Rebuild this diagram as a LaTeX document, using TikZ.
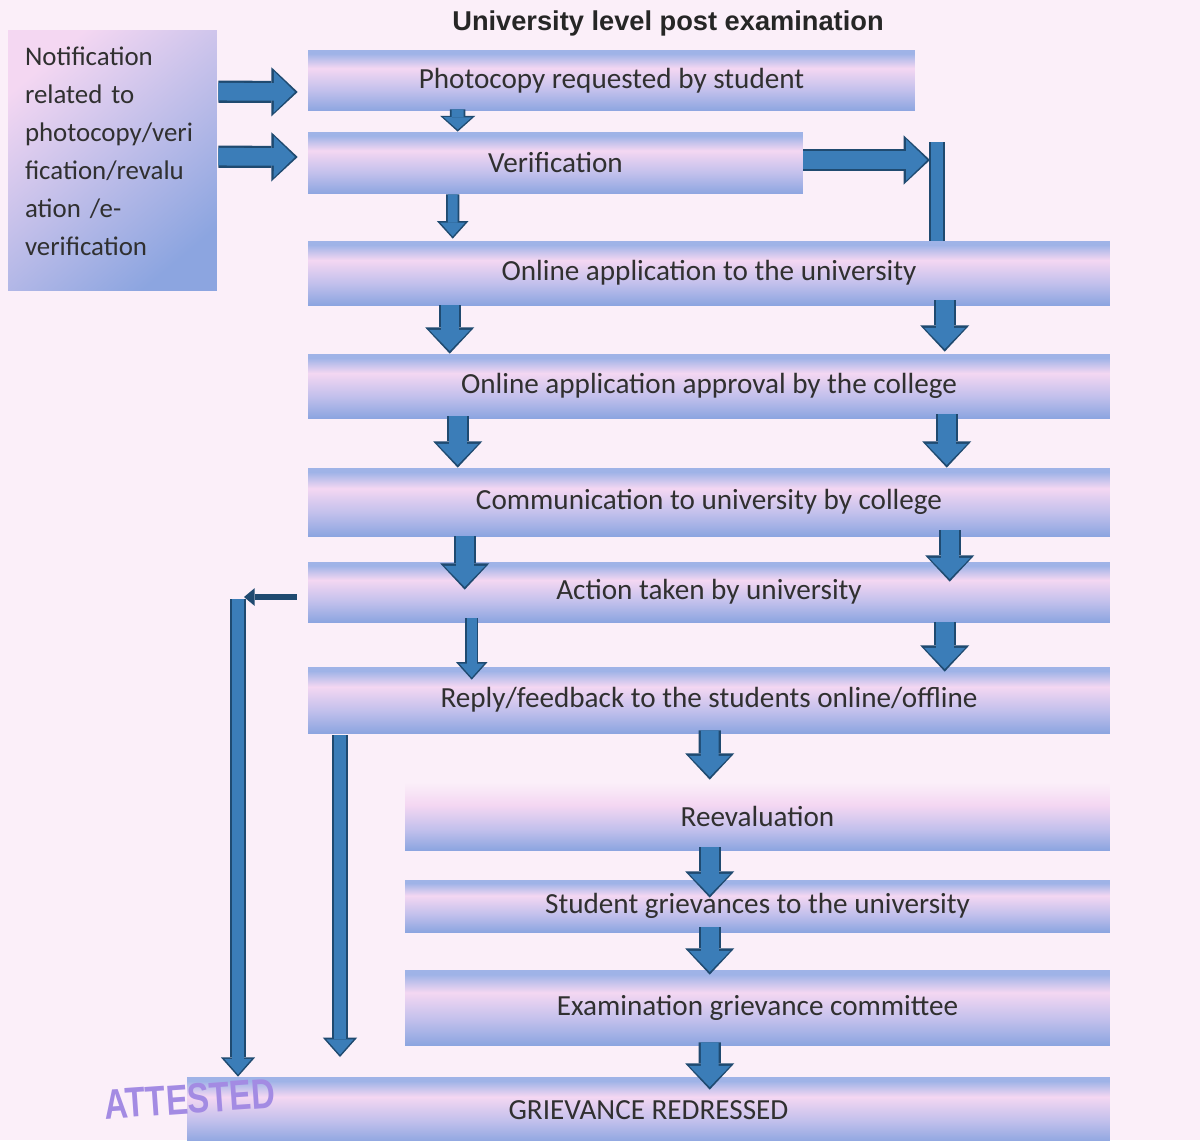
\documentclass[tikz,border=0pt]{standalone}
\usepackage{fontspec}
\setmainfont{Carlito}
\newfontfamily\titlefont{Liberation Sans}
\usetikzlibrary{arrows.meta,calc}
\definecolor{bgpink}{HTML}{FBEFF9}
\definecolor{bbot}{HTML}{8CA5E0}
\definecolor{bmid}{HTML}{C2C0EC}
\definecolor{bpink}{HTML}{F4D7F2}
\definecolor{btop}{HTML}{9FB3E7}
\definecolor{arrfill}{HTML}{3B7DB8}
\definecolor{arrline}{HTML}{1F4A70}
\definecolor{txt}{HTML}{303030}
\definecolor{stampc}{HTML}{A38BE3}
\pgfdeclareverticalshading{boxsh}{100bp}{color(0bp)=(bbot); color(25bp)=(bbot); color(42bp)=(bmid); color(60bp)=(bpink); color(72bp)=(btop); color(75bp)=(btop); color(100bp)=(btop)}
\pgfdeclareverticalshading{reevsh}{100bp}{color(0bp)=(bbot); color(25bp)=(bbot); color(40bp)=(bmid); color(58bp)=(bpink); color(75bp)=(bgpink); color(100bp)=(bgpink)}
\begin{document}
\begin{tikzpicture}[x=0.02cm,y=-0.02cm,
  box/.style={shade, shading=boxsh, inner sep=0pt, text=txt, font=\fontsize{16.6}{20}\selectfont},
  reevbox/.style={box, shading=reevsh},
  notifbox/.style={shade, top color=bpink, bottom color=bbot, shading angle=40, inner sep=0pt, text=txt, align=left, text width=3.5cm, text depth=119pt, font=\fontsize{15.3}{21.6}\selectfont},
  bigarr/.style={preaction={draw=arrline, line width=12.6pt, shorten >=0pt, -{Triangle[length=15pt,width=28pt,line width=0pt]}},
    draw=arrfill, line width=10pt, shorten >=1.6pt, -{Triangle[length=12pt,width=23.5pt,line width=0pt]}},
  thinarr/.style={preaction={draw=arrline, line width=7.6pt, shorten >=0pt, -{Triangle[length=10pt,width=18pt,line width=0pt]}},
    draw=arrfill, line width=5.5pt, shorten >=1.3pt, -{Triangle[length=7.8pt,width=14pt,line width=0pt]}},
  smallarr/.style={preaction={draw=arrline, line width=8.8pt, shorten >=0pt, -{Triangle[length=9pt,width=20pt,line width=0pt]}},
    draw=arrfill, line width=6.8pt, shorten >=1.2pt, -{Triangle[length=7pt,width=16pt,line width=0pt]}},
  bararr/.style={preaction={draw=arrline, line width=8.8pt, shorten >=0pt, -{Triangle[length=11pt,width=19.5pt,line width=0pt]}},
    draw=arrfill, line width=6.6pt, shorten >=1.3pt, -{Triangle[length=8.8pt,width=15.5pt,line width=0pt]}},
  barline/.style={preaction={draw=arrline, line width=8.8pt}, draw=arrfill, line width=6.8pt},
  darkarr/.style={draw=arrline, line width=3.4pt, -{Triangle[length=6pt,width=10pt,line width=0pt]}},
  stamp/.style={text=stampc, inner sep=0pt, font=\titlefont\bfseries\fontsize{24}{26}\selectfont}
]
\fill[bgpink] (0,0) rectangle (1200,1140);
\useasboundingbox (0,0) rectangle (1200,1140);

\node[font=\titlefont\bfseries\fontsize{15.5}{18}\selectfont, text=black!85] (title) at (668,23) {University level post examination};

\node[notifbox, minimum width=4.18cm, minimum height=5.22cm] (notif) at (112.5,160.5)
  {Notification\\related to\\photocopy/veri\\fication/revalu\\ation /e-\\verification};

\node[box, minimum width=12.14cm, minimum height=1.22cm] (photo) at (611.5,80.5) {Photocopy requested by student};
\node[box, minimum width=9.9cm, minimum height=1.24cm] (verif) at (555.5,163) {Verification};
\node[box, minimum width=16.04cm, minimum height=1.28cm] (onl) at (709,273) {Online application to the university};
\node[box, minimum width=16.04cm, minimum height=1.28cm] (appr) at (709,386) {Online application approval by the college};
\node[box, minimum width=16.04cm, minimum height=1.36cm] (comm) at (709,502) {Communication to university by college};
\node[box, minimum width=16.04cm, minimum height=1.2cm] (act) at (709,592) {Action taken by university};
\node[box, minimum width=16.04cm, minimum height=1.32cm] (reply) at (709,700) {Reply/feedback to the students online/offline};
\node[reevbox, minimum width=14.1cm, minimum height=1.36cm] (reev) at (757.5,816) {Reevaluation};
\node[box, minimum width=14.1cm, minimum height=1.04cm] (stud) at (757.5,906) {Student grievances to the university};
\node[box, minimum width=14.1cm, minimum height=1.5cm] (exam) at (757.5,1007.5) {Examination grievance committee};
\node[box, minimum width=18.46cm, minimum height=1.32cm] (red) at (648.5,1110) {GRIEVANCE REDRESSED};

% notification arrows
\draw[bigarr] ($(notif.north east)+(1,62)$) -- ($(photo.west)+(-10,11.5)$);
\draw[bigarr] ($(notif.north east)+(1,127)$) -- ($(verif.west)+(-10,-6)$);

% photocopy -> verification
\draw[smallarr] ($(photo.south west)+(150,-2)$) -- ($(verif.north west)+(150,0)$);
% verification -> online
\draw[thinarr] ($(verif.south west)+(145,0)$) -- ($(onl.north west)+(145,-2)$);

% verification -> right bar
\coordinate (rbar) at (937,142);
\draw[barline] (rbar) -- (rbar |- onl.north);
\draw[bigarr] ($(verif.east)+(0,-3)$) -- ($(rbar)+(-7,18)$);

% column arrows
\draw[bigarr] ($(onl.south west)+(142,0)$) -- ($(appr.north west)+(142,0)$);
\draw[bigarr] ($(onl.south west)+(637,-5)$) -- ($(appr.north west)+(637,-2)$);
\draw[bigarr] ($(appr.south west)+(150,-2)$) -- ($(comm.north west)+(150,0)$);
\draw[bigarr] ($(appr.south west)+(639,-4)$) -- ($(comm.north west)+(639,0)$);
\draw[bigarr] ($(comm.south west)+(157,0)$) -- ($(act.north west)+(157,28)$);
\draw[bigarr] ($(comm.south west)+(642,-6)$) -- ($(act.north west)+(642,20)$);
\draw[thinarr] ($(act.south west)+(164,-4)$) -- ($(reply.north west)+(164,13)$);
\draw[bigarr] ($(act.south west)+(637,0)$) -- ($(reply.north west)+(637,5)$);

% lower chain
\draw[bigarr] ($(reply.south west)+(402,-3)$) -- ($(reev.north west)+(305,-2)$);
\draw[bigarr] ($(reev.south west)+(305,-3)$) -- ($(stud.north west)+(305,18)$);
\draw[bigarr] ($(stud.south west)+(305,-5)$) -- ($(exam.north west)+(305,5)$);
\draw[bigarr] ($(exam.south west)+(305,-3)$) -- ($(red.north west)+(523,13)$);

% feedback lines on the left
\coordinate (fbtop) at (238,599);
\draw[darkarr] ($(act.west)+(-11,5)$) -- ($(fbtop)+(6,-2)$);
\draw[bararr] (fbtop) -- (fbtop |- red.north);
\coordinate (rbd) at (340,1057);
\draw[bararr] ($(reply.south -| rbd)+(0,2)$) -- (rbd);

% stamp
\node[stamp] (att) at (190,1099) {\rotatebox{4}{\scalebox{0.78}[1]{ATTESTED}}};
\end{tikzpicture}
\end{document}
